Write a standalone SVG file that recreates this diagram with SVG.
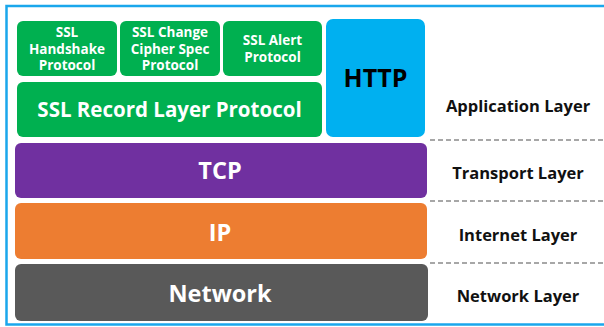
<svg xmlns="http://www.w3.org/2000/svg" width="604" height="327" viewBox="0 0 604 327">
<style>
.g{fill:#00b050}
.t{font-family:"Open Sans","Noto Sans","DejaVu Sans",sans-serif;font-weight:bold;text-anchor:middle;dominant-baseline:central}
.w{fill:#fff}
.sm{font-size:13.5px}
.lay{font-size:16.5px;fill:#111}
.dash{stroke:#8a8a8a;stroke-width:1.5;stroke-dasharray:5 3;fill:none}
</style>
<rect x="0" y="0" width="604" height="327" fill="#fff"/>
<rect x="6.5" y="6" width="610" height="318.5" fill="none" stroke="#1aa7ec" stroke-width="2.5"/>
<g id="ssl-handshake"><rect class="g" x="17" y="21" width="100" height="55" rx="6"/>
<text class="t w sm" x="67" y="32">SSL</text><text class="t w sm" x="67" y="48.5">Handshake</text><text class="t w sm" x="67" y="65">Protocol</text></g>
<g id="ssl-ccs"><rect class="g" x="120" y="21" width="100" height="55" rx="6"/>
<text class="t w sm" x="170" y="32">SSL Change</text><text class="t w sm" x="170" y="48.5">Cipher Spec</text><text class="t w sm" x="170" y="65">Protocol</text></g>
<g id="ssl-alert"><rect class="g" x="223" y="21" width="99" height="55" rx="6"/>
<text class="t w sm" x="272.5" y="40">SSL Alert</text><text class="t w sm" x="272.5" y="57">Protocol</text></g>
<g id="http"><rect x="326" y="19" width="99" height="118" rx="7" fill="#00b0f0"/>
<text class="t" x="375.5" y="77" font-size="25" fill="#000">HTTP</text></g>
<g id="ssl-record"><rect class="g" x="17" y="82" width="305" height="55" rx="6"/>
<text class="t w" x="169.5" y="109" font-size="20.5">SSL Record Layer Protocol</text></g>
<g id="tcp"><rect x="15" y="143" width="412" height="55" rx="6" fill="#7030a0"/>
<text class="t w" x="220" y="170" font-size="23.5">TCP</text></g>
<g id="ip"><rect x="15" y="203" width="412" height="56" rx="6" fill="#ed7d31"/>
<text class="t w" x="220" y="231.5" font-size="23.5">IP</text></g>
<g id="network"><rect x="15" y="264" width="413" height="57" rx="6" fill="#595959"/>
<text class="t w" x="220" y="292.5" font-size="23.5">Network</text></g>
<g id="connectors">
<line class="dash" x1="430" y1="140" x2="604" y2="140"/>
<line class="dash" x1="430" y1="201" x2="604" y2="201"/>
<line class="dash" x1="430" y1="263" x2="604" y2="263"/>
</g>
<g id="layer-labels">
<text class="t lay" x="518" y="105">Application Layer</text>
<text class="t lay" x="518" y="172">Transport Layer</text>
<text class="t lay" x="518" y="234">Internet Layer</text>
<text class="t lay" x="518" y="295">Network Layer</text>
</g>
</svg>
